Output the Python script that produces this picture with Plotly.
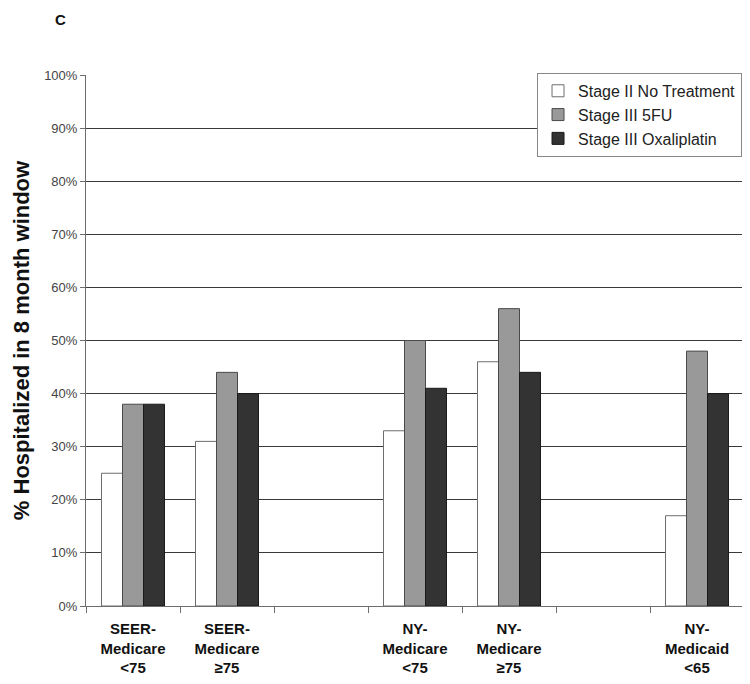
import plotly.graph_objects as go

categories = [
    "SEER-<br>Medicare<br><75",
    "SEER-<br>Medicare<br>≥75",
    " ",
    "NY-<br>Medicare<br><75",
    "NY-<br>Medicare<br>≥75",
    "  ",
    "NY-<br>Medicaid<br><65",
]
stage2_no_treatment = [0.25, 0.31, None, 0.33, 0.46, None, 0.17]
stage3_5fu = [0.38, 0.44, None, 0.50, 0.56, None, 0.48]
stage3_oxaliplatin = [0.38, 0.40, None, 0.41, 0.44, None, 0.40]

series = [
    ("Stage II No Treatment", stage2_no_treatment, "#ffffff", "#6e6e6e"),
    ("Stage III 5FU", stage3_5fu, "#999999", "#4a4a4a"),
    ("Stage III Oxaliplatin", stage3_oxaliplatin, "#333333", "#1a1a1a"),
]

fig = go.Figure()
for name, vals, fill, edge in series:
    fig.add_trace(go.Bar(
        x=categories,
        y=vals,
        name=name,
        marker=dict(color=fill, line=dict(color=edge, width=1)),
    ))

# panel letter
fig.add_annotation(
    text="<b>C</b>", xref="paper", yref="paper",
    x=-0.0395, y=1.105, xanchor="center", yanchor="middle",
    showarrow=False, font=dict(size=15, color="#111111"),
)

fig.update_layout(
    width=750,
    height=684,
    barmode="group",
    bargap=0.33,
    bargroupgap=0,
    plot_bgcolor="white",
    paper_bgcolor="white",
    font=dict(family="Liberation Sans, Arial", color="#333333"),
    margin=dict(l=78, r=14, t=67, b=86, autoexpand=False),
    legend=dict(
        x=0.997, y=1.004, xanchor="right", yanchor="top",
        bgcolor="white", bordercolor="#888888", borderwidth=1,
        font=dict(size=16, color="#222222"),
        tracegroupgap=0, itemwidth=30,
    ),
    xaxis=dict(
        type="category",
        categoryorder="array",
        categoryarray=categories,
        showline=True, linecolor="#6e6e6e", linewidth=1,
        ticks="outside", tickson="boundaries", ticklen=6, tickcolor="#6e6e6e",
        tickfont=dict(size=15, color="#111111"),
        ticklabelstandoff=9,
        showgrid=False,
        tickangle=0,
    ),
    yaxis=dict(
        range=[0, 1.0],
        tickvals=[i / 10 for i in range(11)],
        tickformat=".0%",
        showline=True, linecolor="#6e6e6e", linewidth=1,
        ticks="outside", ticklen=5, tickcolor="#6e6e6e",
        tickfont=dict(size=13, color="#444444"),
        showgrid=True, gridcolor="#3a3a3a", gridwidth=1,
        zeroline=False,
        title=dict(text="<b>% Hospitalized in 8 month window</b>",
                   font=dict(size=22, color="#111111"), standoff=8),
    ),
)
# bold category labels
fig.update_xaxes(ticktext=["<b>" + c + "</b>" for c in categories], tickvals=categories)

fig.write_html("out.html")
